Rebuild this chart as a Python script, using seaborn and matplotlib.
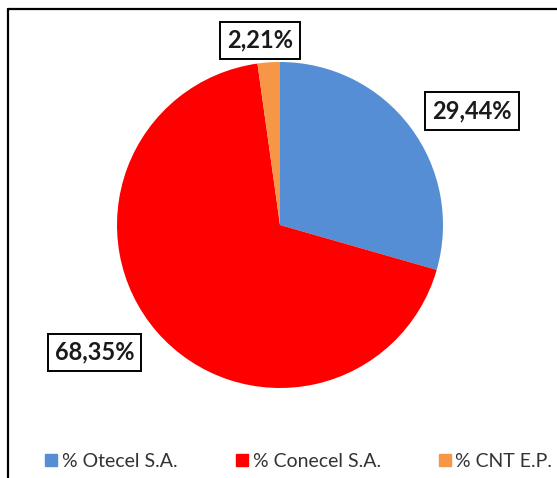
import numpy as np
import seaborn as sns
import matplotlib.pyplot as plt
from matplotlib.lines import Line2D

# datos
operadoras = ['% Otecel S.A.', '% Conecel S.A.', '% CNT E.P.']
porcentajes = [29.44, 68.35, 2.21]
etiquetas = ['29,44%', '68,35%', '2,21%']
colores = ['#558ED5', '#FF0000', '#F79646']

sns.set_theme(style="white")
plt.rcParams['font.family'] = ['Lato', 'DejaVu Sans']

W, H = 557, 478
fig = plt.figure(figsize=(W / 100, H / 100), dpi=100)
ax = fig.add_axes([0, 0, 1, 1])

R = 163.0
cx, cy = 280.0, 225.0
wedges, _ = ax.pie(porcentajes, colors=colores, startangle=90, counterclock=False,
                   radius=1, wedgeprops=dict(linewidth=0))
ax.set_xlim(-cx / R, (W - cx) / R)
ax.set_ylim(-(H - cy) / R, cy / R)
ax.set_aspect('auto')
ax.axis('off')

# posicion de las etiquetas (angulo, distancia)
pos_etiquetas = [(30.7, 1.37), (-145.5, 1.38), (96.2, 1.14)]
for txt, (ang, d) in zip(etiquetas, pos_etiquetas):
    a = np.deg2rad(ang)
    ax.text(d * np.cos(a), d * np.sin(a), txt, ha='center', va='center',
            fontsize=17, fontweight='bold', color='#1a1a1a',
            bbox=dict(boxstyle='square,pad=0.3', fc='white', ec='black', lw=1.4))

# marco
fig.add_artist(Line2D([8 / W, 8 / W], [0, 1 - 9 / H], color='black', lw=1.6,
                      transform=fig.transFigure))
fig.add_artist(Line2D([8 / W, 1], [1 - 9 / H, 1 - 9 / H], color='black', lw=1.6,
                      transform=fig.transFigure))

handles = [Line2D([], [], marker='s', linestyle='none', markersize=8.5,
                  markerfacecolor=c, markeredgecolor=c) for c in colores]
fig.legend(handles, operadoras, loc='lower left', bbox_to_anchor=(0.052, -0.02),
           ncol=3, frameon=False, fontsize=14, handlelength=0.5,
           handletextpad=0.3, columnspacing=3.05, labelcolor='#333333')

fig.savefig('out.png', dpi=100)
